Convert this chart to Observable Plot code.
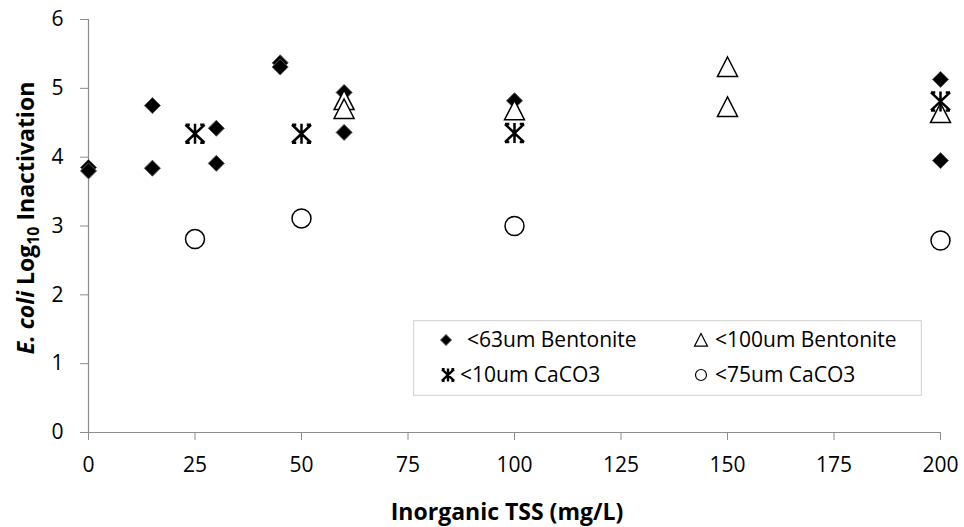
<!DOCTYPE html>
<html>
<head>
<meta charset="utf-8">
<script src="https://cdn.jsdelivr.net/npm/d3@7"></script>
<script src="https://cdn.jsdelivr.net/npm/@observablehq/plot@0.6"></script>
<style>
  html, body { margin: 0; padding: 0; background: #fff; }
  #wrap { position: relative; width: 964px; height: 527px; font-family: "Open Sans", sans-serif; }
  #legend { position: absolute; left: 413px; top: 320px; }
</style>
</head>
<body>
<div id="wrap"></div>
<script>
// ---- data ----
const xTicks = [0, 25, 50, 75, 100, 125, 150, 175, 200];
const yTicks = [0, 1, 2, 3, 4, 5, 6];

const seriesNames = ["<63um Bentonite", "<100um Bentonite", "<10um CaCO3", "<75um CaCO3"];

const bent63X = [0, 0, 15, 15, 30, 30, 45, 45, 60, 60, 100, 200, 200];
const bent63Y = [3.85, 3.80, 4.75, 3.84, 4.42, 3.91, 5.37, 5.31, 4.94, 4.36, 4.82, 5.13, 3.95];

const bent100X = [60, 60, 100, 150, 150, 200];
const bent100Y = [4.83, 4.70, 4.68, 5.31, 4.73, 4.64];

const caco10X = [25, 50, 100, 200];
const caco10Y = [4.34, 4.34, 4.35, 4.81];

const caco75X = [25, 50, 100, 200];
const caco75Y = [2.81, 3.11, 3.00, 2.79];

const toRows = (xs, ys) => xs.map((x, i) => ({x, y: ys[i]}));

// ---- custom marker shapes (size = π r²) ----
const rad = size => Math.sqrt(size / Math.PI);
const diamondSym = { draw(c, size) { const r = rad(size); c.moveTo(0, -r); c.lineTo(r, 0); c.lineTo(0, r); c.lineTo(-r, 0); c.closePath(); } };
const triangleSym = { draw(c, size) { const r = rad(size); c.moveTo(0, -r); c.lineTo(r, r * 0.95); c.lineTo(-r, r * 0.95); c.closePath(); } };
const asteriskSym = { draw(c, size) { const r = rad(size); const a = r * 0.95, b = r * 0.9;
  c.moveTo(0, -r); c.lineTo(0, r);
  c.moveTo(-a, -b); c.lineTo(a, b);
  c.moveTo(-a, b); c.lineTo(a, -b);
  c.moveTo(-a, -b); c.lineTo(-a * 0.55, -b);
  c.moveTo(a * 0.55, -b); c.lineTo(a, -b);
  c.moveTo(-a, b); c.lineTo(-a * 0.55, b);
  c.moveTo(a * 0.55, b); c.lineTo(a, b);
} };
const circleSym = { draw(c, size) { const r = rad(size); c.moveTo(r, 0); c.arc(0, 0, r, 0, 2 * Math.PI); } };

const axisGray = "#8c8c8c";
const fmt = d => String(d);

const chart = Plot.plot({
  width: 964,
  height: 527,
  marginLeft: 88,
  marginRight: 24,
  marginTop: 19,
  marginBottom: 95,
  style: { fontFamily: "Open Sans, sans-serif", fontSize: "21px", color: "#000", background: "#fff", overflow: "visible" },
  x: { domain: [0, 200] },
  y: { domain: [0, 6] },
  marks: [
    Plot.axisY({ ticks: yTicks, tickSize: 8, text: null, stroke: axisGray, label: null }),
    Plot.axisY({ ticks: yTicks, tickSize: 0, tickPadding: 25, tickFormat: fmt, label: null, fill: "#000" }),
    Plot.axisX({ ticks: xTicks, tickSize: 8, text: null, stroke: axisGray, label: null }),
    Plot.axisX({ ticks: xTicks, tickSize: 0, tickPadding: 25, tickFormat: fmt, label: null, fill: "#000" }),
    Plot.ruleX([0], { stroke: axisGray, strokeWidth: 1.2 }),
    Plot.ruleY([0], { stroke: axisGray, strokeWidth: 1.2 }),
    Plot.dot(toRows(bent63X, bent63Y), { x: "x", y: "y", r: 8, symbol: diamondSym, fill: "#000", stroke: "#555", strokeWidth: 1 }),
    Plot.dot(toRows(bent100X, bent100Y), { x: "x", y: "y", r: 10, symbol: triangleSym, fill: "#fff", stroke: "#000", strokeWidth: 1.5 }),
    Plot.dot(toRows(caco10X, caco10Y), { x: "x", y: "y", r: 10, symbol: asteriskSym, fill: "none", stroke: "#000", strokeWidth: 2.5 }),
    Plot.dot(toRows(caco75X, caco75Y), { x: "x", y: "y", r: 9.5, symbol: circleSym, fill: "#fff", stroke: "#000", strokeWidth: 1.5 })
  ]
});

document.getElementById("wrap").appendChild(chart);

// axis titles
const svg = d3.select(chart);
svg.append("text")
  .attr("x", 507).attr("y", 520)
  .attr("text-anchor", "middle")
  .attr("font-weight", "bold").attr("font-size", 23)
  .attr("font-family", "Open Sans, sans-serif")
  .attr("fill", "#000")
  .text("Inorganic TSS (mg/L)");

const yt = svg.append("text")
  .attr("transform", "translate(34,218) rotate(-90)")
  .attr("text-anchor", "middle")
  .attr("font-weight", "bold").attr("font-size", 23)
  .attr("font-family", "Open Sans, sans-serif")
  .attr("fill", "#000");
yt.append("tspan").attr("font-style", "italic").text("E. coli");
yt.append("tspan").text(" Log");
yt.append("tspan").attr("font-size", 16).attr("dy", 5).text("10");
yt.append("tspan").attr("dy", -5).text(" Inactivation");

// legend (overlay)
const legendSyms = [diamondSym, triangleSym, asteriskSym, circleSym];
const lg = d3.select("#wrap").append("svg").attr("id", "legend")
  .attr("width", 509).attr("height", 76);
lg.append("rect").attr("x", 0.5).attr("y", 0.5).attr("width", 508).attr("height", 75)
  .attr("fill", "#fff").attr("stroke", "#d9d9d9").attr("stroke-width", 1.5);
const pos = [[33, 20], [288, 20], [35, 55], [288, 55]];
const textX = [54, 302, 47, 302];
const symStyles = [
  { size: 5.5, fill: "#000", stroke: "#555", sw: 1 },
  { size: 6.5, fill: "#fff", stroke: "#000", sw: 1.2 },
  { size: 6.5, fill: "none", stroke: "#000", sw: 2.4 },
  { size: 5.5, fill: "#fff", stroke: "#000", sw: 1.2 }
];
seriesNames.forEach((name, i) => {
  const [px, py] = pos[i];
  const st = symStyles[i];
  lg.append("path")
    .attr("transform", `translate(${px},${py})`)
    .attr("d", d3.symbol(legendSyms[i], Math.PI * st.size * st.size)())
    .attr("fill", st.fill).attr("stroke", st.stroke).attr("stroke-width", st.sw);
  lg.append("text")
    .attr("x", textX[i]).attr("y", py)
    .attr("dy", "0.35em")
    .attr("font-family", "Open Sans, sans-serif").attr("font-size", 21)
    .attr("fill", "#000")
    .text(name);
});
</script>
</body>
</html>
